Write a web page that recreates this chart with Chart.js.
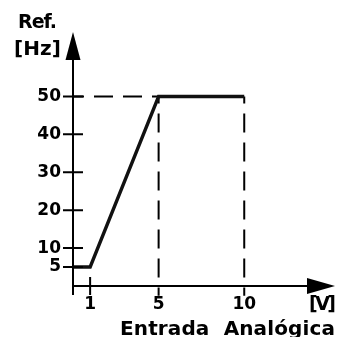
<!DOCTYPE html>
<html><head><meta charset="utf-8">
<script src="https://cdn.jsdelivr.net/npm/chart.js@4/dist/chart.umd.min.js"></script>
<style>html,body{margin:0;padding:0;background:#fff;overflow:hidden}#wrap{width:338px;height:337px}</style>
</head><body><div id="wrap"><canvas id="c" width="338" height="337"></canvas></div>
<script>
const voltage = [0, 1, 5, 10];
const reference = [5, 5, 50, 50];
const xTicks = [1, 5, 10];
const yTicks = [5, 10, 20, 30, 40, 50];
const guideX = [5, 10];
const guideY = 50;
const yTitle1 = 'Ref.';
const yTitle2 = '[Hz]';
const xUnit = '[V]';
const xTitle = 'Entrada  Analógica';

const FONT = '"DejaVu Sans", sans-serif';

function fitText(ctx, text, left, base, width, font) {
  ctx.font = font;
  ctx.textAlign = 'left';
  ctx.textBaseline = 'alphabetic';
  const hasLS = 'letterSpacing' in ctx;
  if (hasLS) ctx.letterSpacing = '0px';
  const w = ctx.measureText(text).width;
  const n = [...text].length;
  if (hasLS && n > 1) {
    ctx.letterSpacing = ((width - w) / (n - 1)).toFixed(2) + 'px';
    ctx.fillText(text, left, base);
    ctx.letterSpacing = '0px';
  } else {
    ctx.save();
    ctx.translate(left, base);
    ctx.scale(width / w, 1);
    ctx.fillText(text, 0, 0);
    ctx.restore();
  }
}

const axesPlugin = {
  id: 'axesArrows',
  afterDatasetsDraw(chart) {
    const { ctx, scales: { x, y } } = chart;
    const x0 = x.getPixelForValue(0), y0 = y.getPixelForValue(0);
    const xEnd = x.getPixelForValue(x.max), yTop = y.getPixelForValue(y.max);
    ctx.save();
    ctx.strokeStyle = '#000';
    ctx.fillStyle = '#000';
    ctx.lineWidth = 2;
    ctx.beginPath();
    ctx.moveTo(x0, y0 + 9); ctx.lineTo(x0, yTop + 20);
    ctx.moveTo(x0 - 1, y0); ctx.lineTo(xEnd - 20, y0);
    yTicks.forEach(v => { const p = y.getPixelForValue(v); ctx.moveTo(x0 - 10, p); ctx.lineTo(x0 + 10, p); });
    xTicks.filter(v => !guideX.includes(v)).forEach(v => { const p = x.getPixelForValue(v); ctx.moveTo(p, y0 - 9); ctx.lineTo(p, y0 + 9); });
    ctx.stroke();
    // arrowheads
    ctx.beginPath();
    ctx.moveTo(x0, yTop); ctx.lineTo(x0 + 7.5, yTop + 28); ctx.lineTo(x0 - 7.5, yTop + 28); ctx.closePath();
    ctx.fill();
    ctx.beginPath();
    ctx.moveTo(xEnd, y0); ctx.lineTo(xEnd - 28, y0 - 8); ctx.lineTo(xEnd - 28, y0 + 8); ctx.closePath();
    ctx.fill();
    // titles
    fitText(ctx, yTitle1, 18, 28, 39, 'bold 19px ' + FONT);
    fitText(ctx, yTitle2, 14, 55, 47, 'bold 20px ' + FONT);
    fitText(ctx, xUnit, 309, 310, 27, 'bold 19px ' + FONT);
    fitText(ctx, xTitle, 120, 335, 215, 'bold 20px ' + FONT);
    ctx.restore();
  }
};

const guideStyle = { borderColor: '#000', borderWidth: 2, borderDash: [19, 10], pointRadius: 0, fill: false, clip: false, borderCapStyle: 'butt' };
const datasets = [
  { data: voltage.map((v, i) => ({ x: v, y: reference[i] })), borderColor: '#111', borderWidth: 3.5, pointRadius: 0, fill: false, tension: 0, borderJoinStyle: 'miter', clip: false, order: 0 },
  Object.assign({ data: [{ x: 0, y: guideY }, { x: guideX[0], y: guideY }], borderDashOffset: 8, order: 1 }, guideStyle),
  ...guideX.map(g => Object.assign({ data: [{ x: g, y: guideY }, { x: g, y: -2.6 }], borderDashOffset: 12, order: 1 }, guideStyle))
];

new Chart(document.getElementById('c'), {
  type: 'line',
  data: { datasets },
  options: {
    responsive: false,
    animation: false,
    events: [],
    devicePixelRatio: 1,
    layout: { padding: { top: 32, right: 3, left: 0, bottom: 0 } },
    plugins: { legend: { display: false }, tooltip: { enabled: false } },
    scales: {
      x: {
        type: 'linear', min: 0, max: 15.3,
        afterBuildTicks: s => { s.ticks = xTicks.map(v => ({ value: v })); },
        afterFit: s => { s.height = 51; },
        grid: { display: false, drawTicks: false },
        border: { display: false },
        ticks: { color: '#000', padding: 8, maxRotation: 0, autoSkip: false, font: { family: FONT, size: 17, weight: 'bold' } }
      },
      y: {
        type: 'linear', min: 0, max: 67,
        afterBuildTicks: s => { s.ticks = yTicks.map(v => ({ value: v })); },
        afterFit: s => { s.width = 73; },
        grid: { display: false, drawTicks: false },
        border: { display: false },
        ticks: { color: '#000', padding: 12, autoSkip: false, font: { family: FONT, size: 17, weight: 'bold' } }
      }
    }
  },
  plugins: [axesPlugin]
});
</script>
</body></html>
